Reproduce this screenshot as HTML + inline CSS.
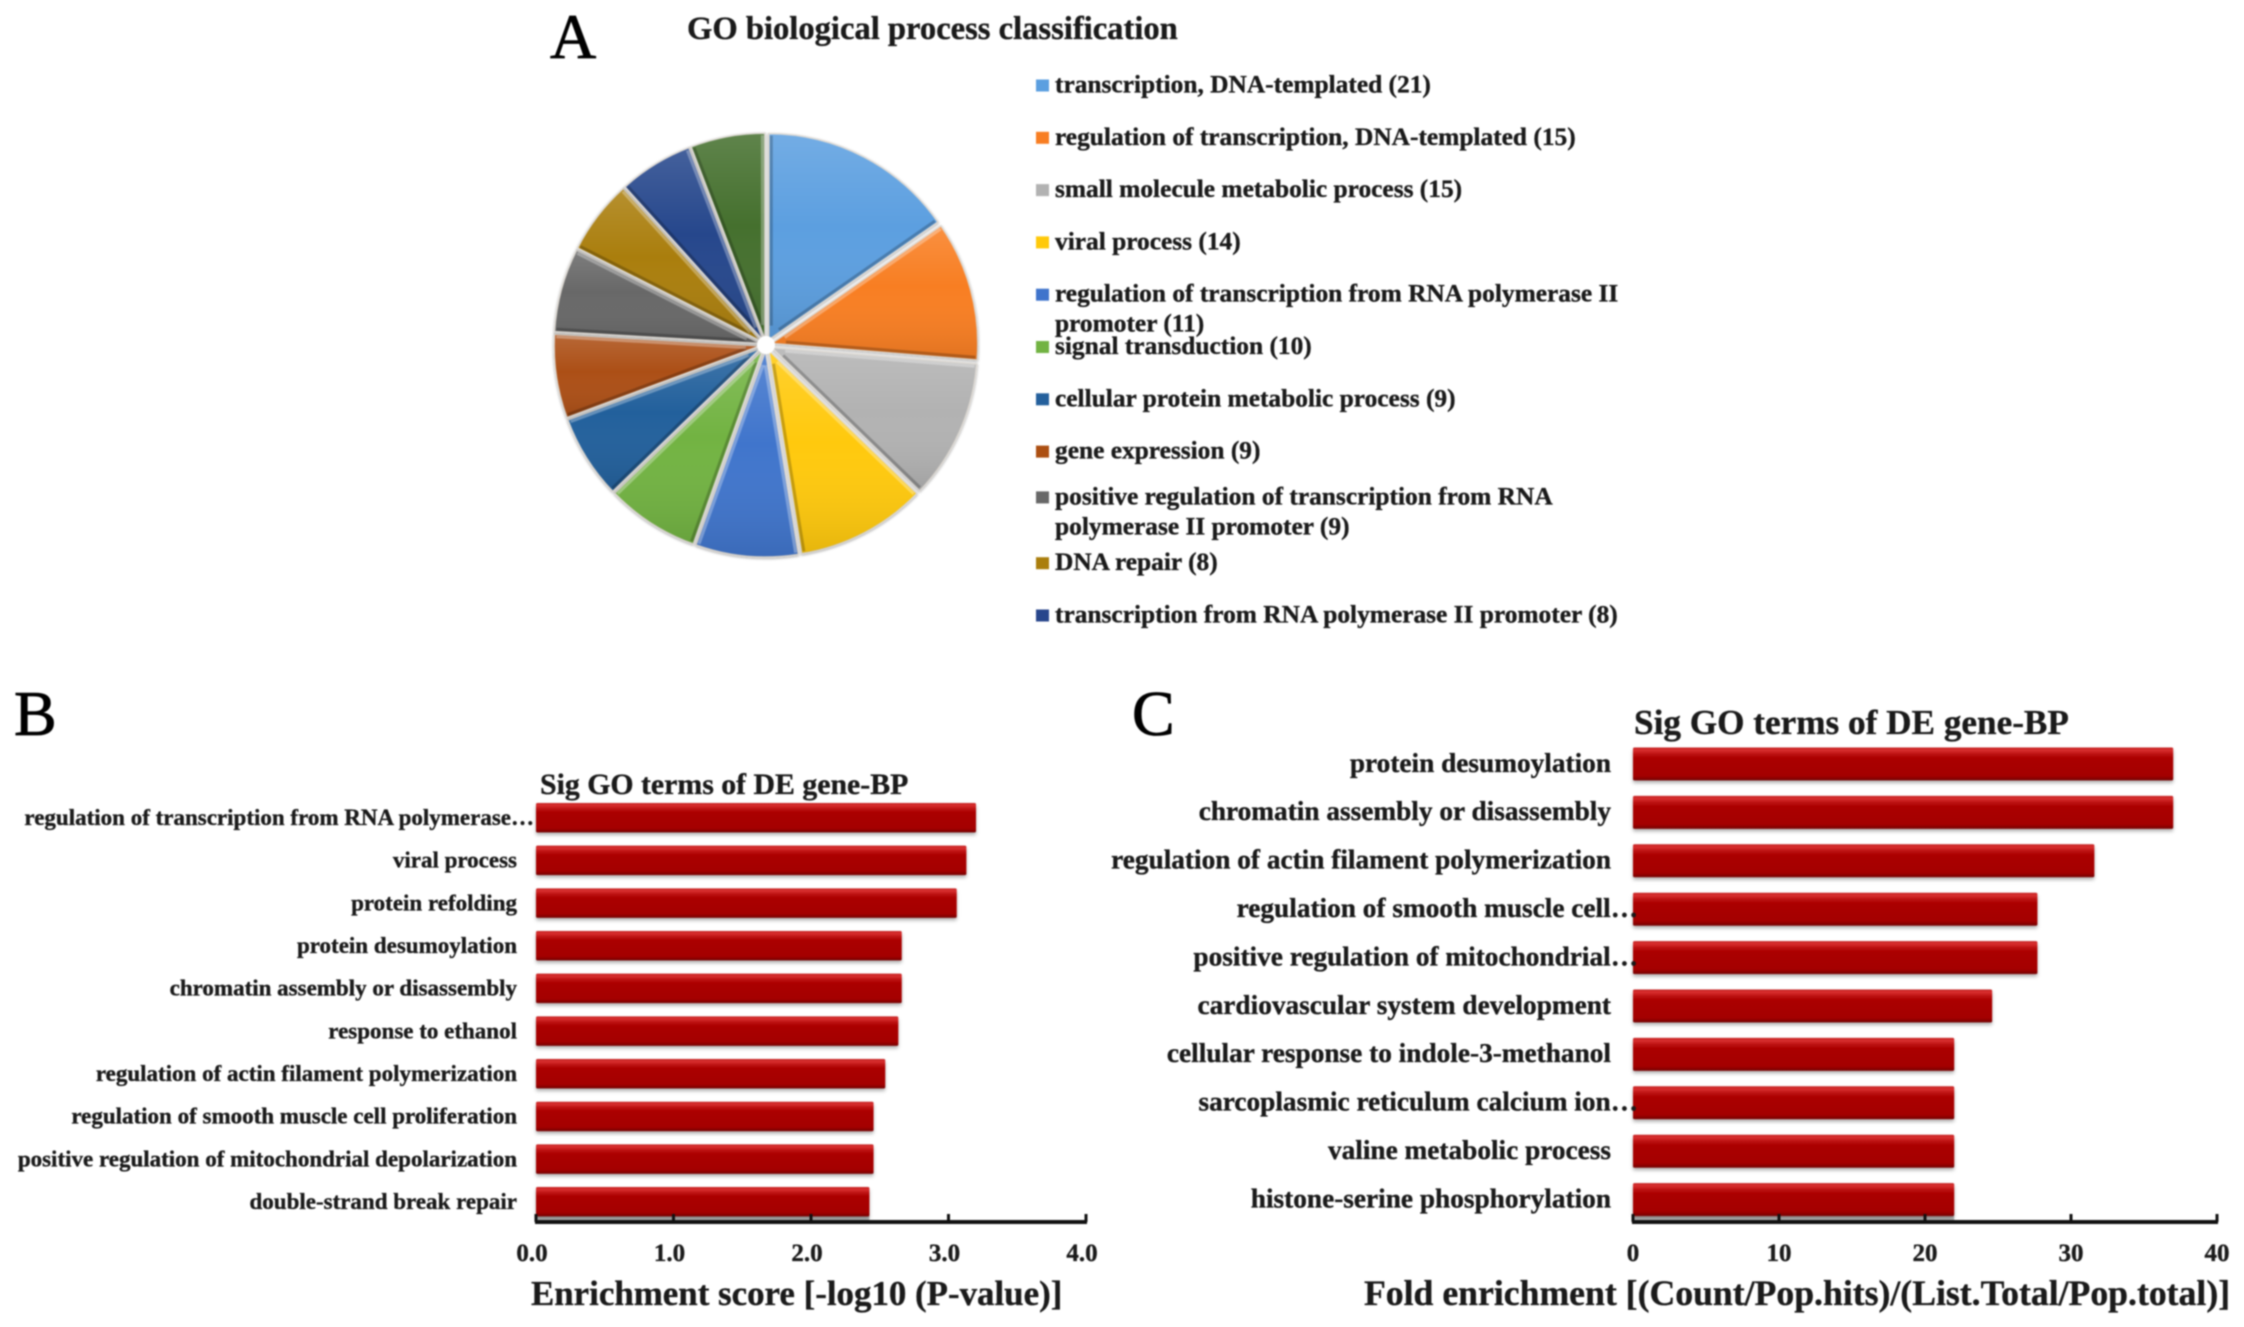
<!DOCTYPE html>
<html lang="en">
<head>
<meta charset="utf-8">
<title>GO biological process classification</title>
<style>
html,body{margin:0;padding:0;background:#fff;}
#figure{display:block;filter:blur(0.85px);}
text{font-family:"Liberation Serif",serif;font-weight:bold;fill:#1a1a1a;stroke:#1a1a1a;stroke-width:0.35px;}
.panel{font-weight:normal;font-size:64px;fill:#000;stroke:#000;stroke-width:0.8px;}
</style>
</head>
<body>
<svg id="figure" xmlns="http://www.w3.org/2000/svg" width="2244" height="1327" viewBox="0 0 2244 1327">
  <defs>
    <linearGradient id="barGrad" x1="0" y1="0" x2="0" y2="1">
      <stop offset="0" stop-color="#c42020"/>
      <stop offset="0.08" stop-color="#d83030"/>
      <stop offset="0.22" stop-color="#b80c0c"/>
      <stop offset="0.34" stop-color="#aa0000"/>
      <stop offset="0.86" stop-color="#a40000"/>
      <stop offset="1" stop-color="#740808"/>
    </linearGradient>
    <linearGradient id="sheen" x1="0" y1="0" x2="0" y2="1">
      <stop offset="0" stop-color="#fff" stop-opacity="0.14"/>
      <stop offset="0.45" stop-color="#fff" stop-opacity="0"/>
      <stop offset="1" stop-color="#000" stop-opacity="0.1"/>
    </linearGradient>
    <filter id="barShadow" x="-5%" y="-20%" width="110%" height="150%">
      <feDropShadow dx="0" dy="2.5" stdDeviation="1.8" flood-color="#000" flood-opacity="0.3"/>
    </filter>
    <filter id="sliceShadow" x="-10%" y="-10%" width="120%" height="120%">
      <feDropShadow dx="0" dy="1" stdDeviation="1.2" flood-color="#000" flood-opacity="0.35"/>
    </filter>
  </defs>

  <text class="panel" x="550" y="58">A</text>
  <text class="panel" x="14" y="735">B</text>
  <text class="panel" x="1132" y="735">C</text>

  <text x="687" y="39" font-size="32.6">GO biological process classification</text>
  <g id="pie"></g>
  <g id="legend"></g>

  <text x="540" y="794" font-size="29.8">Sig GO terms of DE gene-BP</text>
  <g id="chartB"></g>
  <text x="531" y="1305" font-size="34.9">Enrichment score [-log10 (P-value)]</text>

  <text x="1634" y="734" font-size="35.2">Sig GO terms of DE gene-BP</text>
  <g id="chartC"></g>
  <text x="1364" y="1305" font-size="35.7">Fold enrichment [(Count/Pop.hits)/(List.Total/Pop.total)]</text>
</svg>

<script>
const pieValues = [21, 15, 15, 14, 11, 10, 9, 9, 9, 8, 8, 8];
const sliceColors = ['#5b9fe0', '#f87e22', '#b2b2b2', '#ffc90a', '#3f74cc', '#72b342', '#24609c', '#ac4f12', '#686868', '#aa7e0c', '#28468c', '#45702f'];
const legendLines = [
  ['transcription, DNA-templated'],
  ['regulation of transcription, DNA-templated'],
  ['small molecule metabolic process'],
  ['viral process'],
  ['regulation of transcription from RNA polymerase II', 'promoter'],
  ['signal transduction'],
  ['cellular protein metabolic process'],
  ['gene expression'],
  ['positive regulation of transcription from RNA', 'polymerase II promoter'],
  ['DNA repair'],
  ['transcription from RNA polymerase II promoter']
];

const bCategories = ['regulation of transcription from RNA polymerase…', 'viral process', 'protein refolding', 'protein desumoylation', 'chromatin assembly or disassembly', 'response to ethanol', 'regulation of actin filament polymerization', 'regulation of smooth muscle cell proliferation', 'positive regulation of mitochondrial depolarization', 'double-strand break repair'];
const bValues = [3.20, 3.13, 3.06, 2.66, 2.66, 2.635, 2.54, 2.455, 2.455, 2.425];
const bTicks = [0, 1, 2, 3, 4];
const bTickLabels = ['0.0', '1.0', '2.0', '3.0', '4.0'];

const cCategories = ['protein desumoylation', 'chromatin assembly or disassembly', 'regulation of actin filament polymerization', 'regulation of smooth muscle cell…', 'positive regulation of mitochondrial…', 'cardiovascular system development', 'cellular response to indole-3-methanol', 'sarcoplasmic reticulum calcium ion…', 'valine metabolic process', 'histone-serine phosphorylation'];
const cValues = [37.0, 37.0, 31.6, 27.7, 27.7, 24.6, 22.0, 22.0, 22.0, 22.0];
const cTicks = [0, 10, 20, 30, 40];
const cTickLabels = ['0', '10', '20', '30', '40'];

const NS = 'http://www.w3.org/2000/svg';
function make(tag, attrs, parent) {
  const el = document.createElementNS(NS, tag);
  for (const k in attrs) el.setAttribute(k, attrs[k]);
  parent.appendChild(el);
  return el;
}

/* ---------- pie ---------- */
const pieGroup = document.getElementById('pie');
const pieCx = 766, pieCy = 345, pieR = 206, pieExplode = 6;
const pieTotal = pieValues.reduce((a, b) => a + b, 0);
function pieAngle(sum) { return sum / pieTotal * 2 * Math.PI; }

function drawBevel(ox, oy, angle, nx, ny) {
  // highlight an edge facing upward, shade an edge facing downward
  const up = ny < 0;
  const insetX = -nx * 2.5, insetY = -ny * 2.5;
  const edge = make('line', {
    x1: ox + insetX + 14 * Math.sin(angle), y1: oy + insetY - 14 * Math.cos(angle),
    x2: ox + insetX + (pieR - 2) * Math.sin(angle), y2: oy + insetY - (pieR - 2) * Math.cos(angle),
    stroke: up ? '#fff' : '#000', 'stroke-opacity': up ? 0.3 : 0.22, 'stroke-width': 3
  }, pieGroup);
  
  
}

let running = 0;
pieValues.forEach((v, i) => {
  const a0 = pieAngle(running);
  running += v;
  const a1 = pieAngle(running);
  const mid = (a0 + a1) / 2;
  const ox = pieCx + pieExplode * Math.sin(mid), oy = pieCy - pieExplode * Math.cos(mid);
  const x0 = ox + pieR * Math.sin(a0), y0 = oy - pieR * Math.cos(a0);
  const x1 = ox + pieR * Math.sin(a1), y1 = oy - pieR * Math.cos(a1);
  const large = a1 - a0 > Math.PI ? 1 : 0;
  const d = 'M' + ox + ' ' + oy + 'L' + x0 + ' ' + y0 + 'A' + pieR + ' ' + pieR + ' 0 ' + large + ' 1 ' + x1 + ' ' + y1 + 'Z';
  const slice = make('path', {d: d, fill: sliceColors[i], stroke: '#dcd8d2', 'stroke-width': 1.5, filter: 'url(#sliceShadow)'}, pieGroup);
  
  
  const sheen = make('path', {d: d, fill: 'url(#sheen)'}, pieGroup);
  
  
  drawBevel(ox, oy, a0, -Math.cos(a0), -Math.sin(a0));
  drawBevel(ox, oy, a1, Math.cos(a1), Math.sin(a1));
});
const hole = make('circle', {cx: pieCx, cy: pieCy, r: 9, fill: '#fff'}, pieGroup);



/* ---------- legend ---------- */
const legendGroup = document.getElementById('legend');
legendLines.forEach((lines, i) => {
  const shift = i === 8 ? -6.5 : (i > 8 ? 7 : 0);
  const cy = 85.5 + 52.3 * i + shift;
  const swatch = make('rect', {x: 1036, y: cy - 6, width: 13, height: 12, fill: sliceColors[i]}, legendGroup);
  
  
  lines.forEach((line, j) => {
    const isLast = j === lines.length - 1;
    const t = make('text', {x: 1055, y: cy + 7 + j * 30, 'font-size': 25.4}, legendGroup);
    t.textContent = isLast ? line + ' (' + pieValues[i] + ')' : line;
    
    
  });
});

/* ---------- bars ---------- */
function drawBarChart(opts) {
  const g = opts.group;
  const xScale = v => opts.x0 + (v - opts.domain[0]) / (opts.domain[1] - opts.domain[0]) * (opts.x1 - opts.x0);
  const yScale = i => opts.firstTop + i * opts.step;
  const lastValue = opts.values[opts.values.length - 1];

  const strip = make('rect', {x: opts.x0, y: opts.axisY - 6, width: xScale(lastValue) - opts.x0, height: 5, fill: '#bdbdbd'}, g);
  
  

  opts.values.forEach((v, i) => {
    const bar = make('rect', {x: opts.x0, y: yScale(i), width: xScale(v) - opts.x0, height: opts.barH, rx: 1.5, fill: 'url(#barGrad)', filter: 'url(#barShadow)'}, g);
    
    
    const label = make('text', {x: opts.categories[i].endsWith('…') ? opts.truncEdge : opts.labelEdge, y: yScale(i) + opts.barH / 2 + opts.labelDy, 'text-anchor': 'end', 'font-size': opts.labelSize}, g);
    label.textContent = opts.categories[i];
    
    
  });

  const axis = make('line', {x1: opts.x0 - 1, x2: opts.x1 + 1, y1: opts.axisY, y2: opts.axisY, stroke: '#111', 'stroke-width': 4}, g);
  
  

  opts.ticks.forEach((tv, i) => {
    const tx = xScale(tv);
    const tick = make('line', {x1: tx, x2: tx, y1: opts.axisY - 8, y2: opts.axisY, stroke: '#111', 'stroke-width': 3}, g);
    
    
    const lab = make('text', {x: tx + opts.tickDx, y: opts.axisY + 39, 'text-anchor': 'middle', 'font-size': 25}, g);
    lab.textContent = opts.tickLabels[i];
    
    
  });
}

drawBarChart({
  group: document.getElementById('chartB'),
  categories: bCategories, values: bValues, ticks: bTicks, tickLabels: bTickLabels,
  domain: [0, 4], x0: 536, x1: 1086, axisY: 1222,
  firstTop: 803, step: 42.67, barH: 29.5,
  labelEdge: 517, truncEdge: 534, labelSize: 23, labelDy: 7.3, tickDx: -4
});

drawBarChart({
  group: document.getElementById('chartC'),
  categories: cCategories, values: cValues, ticks: cTicks, tickLabels: cTickLabels,
  domain: [0, 40], x0: 1633, x1: 2217, axisY: 1222,
  firstTop: 747.5, step: 48.4, barH: 33,
  labelEdge: 1611, truncEdge: 1638, labelSize: 27.3, labelDy: 7.8, tickDx: 0
});
</script>
</body>
</html>
